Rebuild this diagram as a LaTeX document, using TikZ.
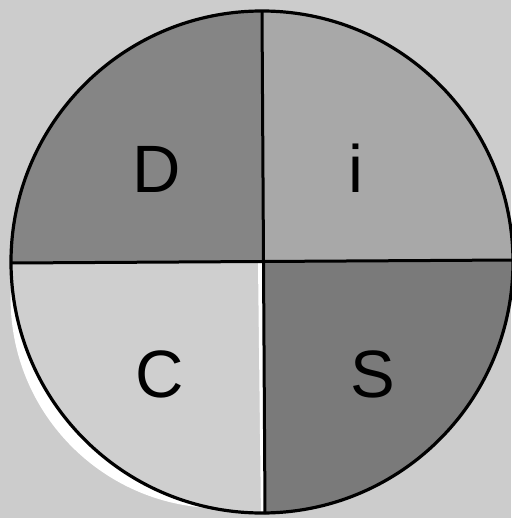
\documentclass[tikz,border=0pt]{standalone}
\usepackage{fontspec}
\setmainfont{Liberation Sans}
\begin{document}
\begin{tikzpicture}[x=1pt,y=-1pt,
  outline/.style={draw=black,line width=3.2pt},
  divider/.style={draw=black,line width=3pt},
  letter/.style={font=\fontsize{67}{67}\selectfont,text=black,inner sep=0pt,anchor=base}]
\useasboundingbox (0,0) rectangle (511,518);
\fill[black!20] (0,0) rectangle (511,518);
\fill[white] (220.2,298.6) circle[radius=209.6];
\coordinate (O) at (262,262);
\coordinate (T) at (262,11);
\coordinate (B) at (265,514);
\coordinate (L) at (11,263);
\coordinate (R) at (514,260);
\begin{scope}
  \clip (O) circle[radius=251];
  \fill[black!48] (0,0) rectangle (262,263);   % D
  \fill[black!34] (262,0) rectangle (520,261); % i
  \fill[black!19] (0,263) rectangle (264,520); % C
  \fill[white] (258,263) -- (263,263) -- (266,520) -- (261,520) -- cycle;
  \fill[black!52] (263,261) -- (520,260) -- (520,520) -- (266,520) -- cycle; % S
\end{scope}
\draw[divider] (T) -- (B);
\draw[divider] (L) -- (R);
\draw[outline] (O) circle[radius=251];
\node[letter] (d) at (157,193) {D};
\node[letter] (i) at (356,193) {i};
\node[letter] (c) at (160,397) {C};
\node[letter] (s) at (373,397) {S};
\end{tikzpicture}
\end{document}
